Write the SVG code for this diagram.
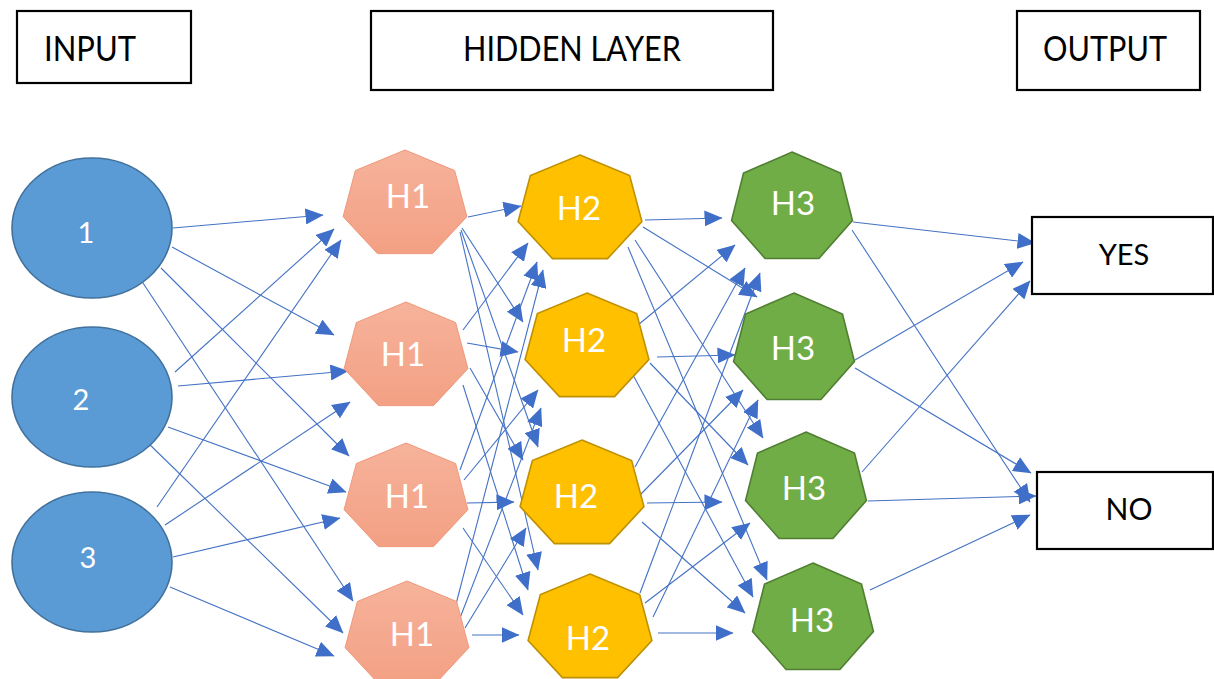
<svg xmlns="http://www.w3.org/2000/svg" width="1214" height="679" viewBox="0 0 1214 679">
<defs>
<style>
.box{fill:#fff;stroke:#000;stroke-width:2.2}
.lbl{font-family:Lato,"Open Sans","Liberation Sans",sans-serif;fill:#000}
.nl{font-family:Lato,"Open Sans","Liberation Sans",sans-serif;fill:#fff;text-anchor:middle}
.inp{fill:#5B9BD5;stroke:#41719C;stroke-width:1.6}
.h1{fill:url(#g1);stroke:#F0977A;stroke-width:1}
.h2{fill:#FFC000;stroke:#BF9000;stroke-width:1.6}
.h3{fill:#70AD47;stroke:#507E32;stroke-width:1.6}
#edges line{stroke:#4472C4;stroke-width:1.1;marker-end:url(#ah)}
</style>
<linearGradient id="g1" x1="0" y1="0" x2="0" y2="1">
<stop offset="0" stop-color="#F6B39B"/>
<stop offset="1" stop-color="#F3A084"/>
</linearGradient>
<marker id="ah" markerUnits="userSpaceOnUse" markerWidth="19" markerHeight="16" refX="17.5" refY="8" orient="auto">
<path d="M0,0 L18,8 L0,16 z" fill="#3F6FC9"/>
</marker>
<polygon id="hepA" points="0,-54.5 49.64,-33.98 61.91,12.13 27.55,49.1 -27.55,49.1 -61.91,12.13 -49.64,-33.98"/>
<polygon id="hepB" points="0,-56 48.47,-34.92 60.44,12.46 26.9,50.46 -26.9,50.46 -60.44,12.46 -48.47,-34.92"/>
</defs>
<rect width="1214" height="679" fill="#fff"/>

<g id="title-input"><rect class="box" x="17" y="11" width="174" height="72"/><text class="lbl" x="44" y="61" font-size="34" textLength="92" lengthAdjust="spacingAndGlyphs">INPUT</text></g>
<g id="title-hidden"><rect class="box" x="371" y="11" width="402" height="79"/><text class="lbl" x="463" y="61" font-size="34" textLength="218" lengthAdjust="spacingAndGlyphs">HIDDEN LAYER</text></g>
<g id="title-output"><rect class="box" x="1017" y="11" width="183" height="79"/><text class="lbl" x="1043" y="61" font-size="34" textLength="124" lengthAdjust="spacingAndGlyphs">OUTPUT</text></g>

<g id="edges">
<line x1="173" y1="228" x2="323" y2="215"/>
<line x1="172" y1="247" x2="334" y2="335"/>
<line x1="161" y1="268" x2="349" y2="456"/>
<line x1="141" y1="280" x2="353" y2="601"/>
<line x1="175" y1="372" x2="334" y2="229"/>
<line x1="178" y1="386" x2="348" y2="371"/>
<line x1="168" y1="427" x2="346" y2="492"/>
<line x1="145" y1="440" x2="343" y2="633"/>
<line x1="157" y1="507" x2="341" y2="240"/>
<line x1="165" y1="525" x2="350" y2="402"/>
<line x1="173" y1="557" x2="340" y2="518"/>
<line x1="170" y1="587" x2="334" y2="656"/>

<line x1="468" y1="217" x2="521" y2="206"/>
<line x1="462" y1="228" x2="523" y2="322"/>
<line x1="461" y1="230" x2="538" y2="447"/>
<line x1="460" y1="232" x2="538" y2="570"/>
<line x1="463" y1="330" x2="528" y2="243"/>
<line x1="467" y1="343" x2="518" y2="352"/>
<line x1="470" y1="368" x2="523" y2="460"/>
<line x1="463" y1="385" x2="528" y2="590"/>
<line x1="460" y1="470" x2="537" y2="262"/>
<line x1="464" y1="480" x2="538" y2="390"/>
<line x1="467" y1="503" x2="514" y2="502"/>
<line x1="463" y1="528" x2="523" y2="615"/>
<line x1="455" y1="608" x2="543" y2="270"/>
<line x1="460" y1="618" x2="541" y2="408"/>
<line x1="465" y1="628" x2="526" y2="528"/>
<line x1="472" y1="635" x2="519" y2="635"/>

<line x1="645" y1="220" x2="722" y2="218"/>
<line x1="643" y1="227" x2="757" y2="297"/>
<line x1="635" y1="240" x2="763" y2="438"/>
<line x1="628" y1="247" x2="767" y2="580"/>
<line x1="638" y1="325" x2="735" y2="245"/>
<line x1="657" y1="357" x2="735" y2="355"/>
<line x1="650" y1="363" x2="748" y2="465"/>
<line x1="633" y1="375" x2="753" y2="597"/>
<line x1="635" y1="467" x2="745" y2="268"/>
<line x1="640" y1="495" x2="743" y2="390"/>
<line x1="647" y1="503" x2="722" y2="502"/>
<line x1="642" y1="522" x2="745" y2="613"/>
<line x1="640" y1="593" x2="760" y2="273"/>
<line x1="653" y1="617" x2="758" y2="400"/>
<line x1="645" y1="603" x2="750" y2="523"/>
<line x1="658" y1="633" x2="733" y2="633"/>

<line x1="853" y1="222" x2="1035" y2="243"/>
<line x1="852" y1="230" x2="1030" y2="502"/>
<line x1="855" y1="360" x2="1023" y2="262"/>
<line x1="855" y1="368" x2="1031" y2="473"/>
<line x1="862" y1="472" x2="1030" y2="281"/>
<line x1="868" y1="501" x2="1036" y2="496"/>
<line x1="870" y1="590" x2="1030" y2="515"/>
</g>

<g id="in1"><ellipse class="inp" cx="92" cy="228" rx="80" ry="70"/><text class="nl" x="86" y="243" font-size="29">1</text></g>
<g id="in2"><ellipse class="inp" cx="92" cy="397" rx="80" ry="70"/><text class="nl" x="81" y="410" font-size="29">2</text></g>
<g id="in3"><ellipse class="inp" cx="92" cy="562" rx="80" ry="70"/><text class="nl" x="88" y="568" font-size="29">3</text></g>

<g id="h1a"><use href="#hepA" class="h1" x="405" y="204.5"/><text class="nl" x="408" y="208" font-size="33">H1</text></g>
<g id="h1b"><use href="#hepA" class="h1" x="406" y="356.5"/><text class="nl" x="403" y="366" font-size="33">H1</text></g>
<g id="h1c"><use href="#hepA" class="h1" x="406" y="497.5"/><text class="nl" x="407" y="508" font-size="33">H1</text></g>
<g id="h1d"><use href="#hepA" class="h1" x="407" y="635.5"/><text class="nl" x="412" y="646" font-size="33">H1</text></g>

<g id="h2a"><use href="#hepA" class="h2" x="580" y="209.5"/><text class="nl" x="579" y="220" font-size="33">H2</text></g>
<g id="h2b"><use href="#hepA" class="h2" x="587" y="347.5"/><text class="nl" x="584" y="352" font-size="33">H2</text></g>
<g id="h2c"><use href="#hepA" class="h2" x="582" y="494.5"/><text class="nl" x="576" y="508" font-size="33">H2</text></g>
<g id="h2d"><use href="#hepA" class="h2" x="590" y="628.5"/><text class="nl" x="588" y="650" font-size="33">H2</text></g>

<g id="h3a"><use href="#hepB" class="h3" x="792" y="208"/><text class="nl" x="793" y="215" font-size="33">H3</text></g>
<g id="h3b"><use href="#hepB" class="h3" x="794" y="349"/><text class="nl" x="793" y="360" font-size="33">H3</text></g>
<g id="h3c"><use href="#hepB" class="h3" x="806" y="488"/><text class="nl" x="804" y="500" font-size="33">H3</text></g>
<g id="h3d"><use href="#hepB" class="h3" x="813" y="619"/><text class="nl" x="812" y="632" font-size="33">H3</text></g>

<g id="out-yes"><rect class="box" x="1032" y="217" width="181" height="77"/><text class="lbl" x="1124" y="265" font-size="29" text-anchor="middle">YES</text></g>
<g id="out-no"><rect class="box" x="1037" y="472" width="176" height="77"/><text class="lbl" x="1129" y="520" font-size="30" text-anchor="middle">NO</text></g>
</svg>
